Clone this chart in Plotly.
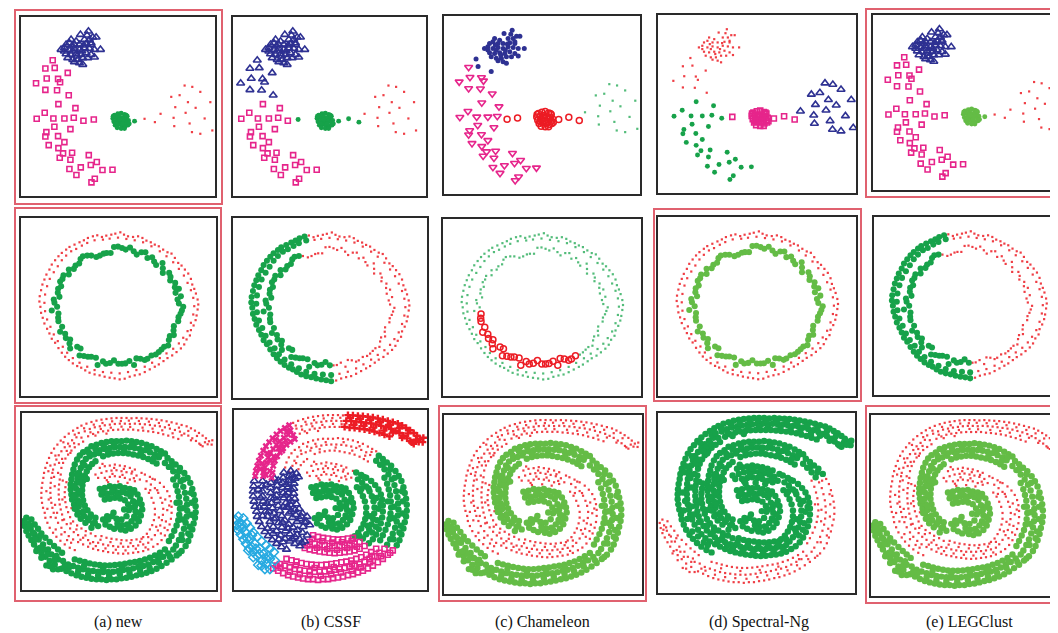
import plotly.graph_objects as go

W, H = 1058, 633
NAVY = "#2e3192"; PINK = "#e6258b"; DKG = "#17a24a"; LTG = "#64bc46"
RED = "#ec1c24"; CYAN = "#27aae1"; FRAME_RED = "#e0616f"; GTINY = "#35b063"

CAPTIONS = ["(a) new", "(b) CSSF", "(c) Chameleon", "(d) Spectral-Ng", "(e) LEGClust"]

# ---------------- Row 1: four groups (blob, arc, dense core, sparse cloud) ----------------
R1_A = [(242,70),(218,80),(255,88),(265,88),(190,95),(205,100),(230,95),(245,95),(175,110),(185,105),
        (200,110),(215,110),(235,108),(250,110),(160,125),(170,120),(185,125),(200,122),(215,125),(230,120),
        (245,122),(260,125),(278,125),(175,138),(190,140),(205,138),(220,140),(235,135),(250,140),(260,148),
        (180,150),(195,155),(210,155),(225,150),(240,150),(215,165),(225,170),(200,162),(170,130),(195,130),
        (222,130),(208,145),(238,82),(250,105),(192,115),(228,112)]
R1_B_UP3 = [(135,157),(141,180),(180,195)]
R1_B_UP = [(113,182),(117,212),(151,213),(157,223),(85,226),(113,246),(148,247),(183,262)]
R1_B_LOW = [(152,289),(203,301),(111,315),(87,333),(137,332),(170,332),(198,330),(140,357),(188,364),(116,373),
            (113,386),(151,385),(170,403),(123,412),(152,421),(193,435),(166,437),(243,442),(156,450),(188,456),
            (267,463),(249,472),(219,479),(185,484),(284,487),(314,486),(206,502),(261,513),(251,524)]
R1_B_R1 = [(227,339)]
R1_B_R2 = [(258,335)]
R1_C = [(320,322),(330,318),(340,316),(350,320),(358,325),(315,332),(325,330),(335,328),(345,330),(355,333),
        (362,338),(318,342),(328,340),(338,342),(348,340),(358,345),(322,352),(332,350),(342,352),(352,355),
        (360,352),(328,360),(340,362),(350,362),(335,335),(345,348),(325,347),(355,322),(316,325),(364,348)]
R1_BRIDGE = [(380,340)]
R1_D_LEFT = [(410,333),(441,343)]
R1_D = [(530,233),(553,237),(577,252),(490,267),(515,262),(607,283),(502,298),(540,283),(563,300),(458,318),
        (497,330),(533,315),(590,332),(545,347),(499,355),(552,373),(577,378),(613,368)]
ROW1 = {"A": R1_A, "BU3": R1_B_UP3, "BU": R1_B_UP, "BL": R1_B_LOW, "BR1": R1_B_R1, "BR2": R1_B_R2,
        "C": R1_C, "BRG": R1_BRIDGE, "DL": R1_D_LEFT, "D": R1_D}
ROW1_LABELS = [
    {"A":"tri","BU3":"sq","BU":"sq","BL":"sq","BR1":"sq","BR2":"sq","C":"dkg","BRG":"dkg","DL":"red","D":"red"},
    {"A":"tri","BU3":"tri","BU":"tri","BL":"sq","BR1":"sq","BR2":"dkg","C":"dkg","BRG":"dkg","DL":"dkg","D":"red"},
    {"A":"navy","BU3":"navy","BU":"dn","BL":"dn","BR1":"ro","BR2":"ro","C":"ro","BRG":"ro","DL":"ro","D":"gt"},
    {"A":"red","BU3":"red","BU":"red","BL":"dkg","BR1":"dkg","BR2":"sq","C":"sq","BRG":"sq","DL":"sq","D":"tri"},
    {"A":"tri","BU3":"sq","BU":"sq","BL":"sq","BR1":"sq","BR2":"sq","C":"ltg","BRG":"ltg","DL":"red","D":"red"},
]

# ---------------- Row 2: two wavy concentric rings ----------------
R2_I_TR = [(250,158),(265,162),(276,158),(287,152),(296,150),(308,150),(318,132),(330,131),(342,135),(353,140),
           (366,134),(377,145),(386,155),(400,148),(412,148),(418,165),(432,163),(438,176),(444,186),(463,180),
           (464,196),(464,210),(483,210),(487,222),(486,233),(501,240),(500,253),(512,258),(502,270),(518,280),
           (508,290),(512,302),(525,312),(521,323),(517,333),(511,343),(510,355),(497,370),(496,383),(497,397),
           (485,400),(482,412),(480,428),(468,432),(460,440),(452,448),(443,455)]
R2_I_BR = [(430,458),(418,468),(410,472),(397,468),(385,467),(378,487),(364,475),(352,482),(342,483)]
R2_I_BL = [(331,483),(318,473),(306,481),(294,483),(285,476),(269,487),(264,465),(250,462),(240,462),(228,460),
           (215,458),(218,437),(208,432),(187,437),(185,422),(187,410),(174,406),(172,393),(157,387),(163,372),
           (152,355),(151,345),(152,332)]
R2_I_LT = [(132,323),(148,312),(140,300),(138,290),(155,282),(150,270),(151,258),(160,250),(157,236),(164,228),
           (167,217),(183,215),(183,200),(198,198),(203,188),(214,182),(218,168),(225,160),(238,158)]
R2_O_LEFT = [(175,140),(185,132),(200,125),(215,118),(228,112),(240,105),(255,100),(335,530),(320,527),(305,525),
             (290,522),(275,518),(260,515),(245,510),(232,503),(220,495),(208,490),(195,482),(183,472),(172,462),
             (162,450),(152,436),(142,420),(132,408),(125,392),(118,378),(110,362),(105,345),(100,330),(98,312),
             (95,296),(96,280),(100,262),(104,245),(110,230),(116,215),(125,200),(132,185),(142,172),(152,160),
             (162,150),(190,145),(205,138),(222,128),(238,120),(260,112),(335,512),(310,510),(285,508),(260,502),
             (238,492),(215,480),(195,466),(178,450),(165,432),(150,415),(138,395),(128,372),(118,350),(112,325),
             (110,300),(112,275),(118,250),(126,228),(138,208),(150,190),(162,172),(175,158)]
R2_O_RIGHT = [(268,97),(282,102),(295,98),(310,95),(322,92),(337,88),(348,95),(360,100),(375,102),(390,100),
              (403,105),(415,113),(428,118),(440,125),(452,130),(465,140),(478,148),(490,152),(500,165),(510,180),
              (520,188),(530,200),(540,212),(548,228),(552,245),(558,258),(563,272),(568,290),(570,305),(568,320),
              (565,338),(562,352),(556,368),(548,382),(545,398),(535,410),(528,425),(518,437),(505,448),(492,458),
              (478,466),(466,475),(452,485),(440,492),(425,500),(410,508),(395,515),(380,518),(365,522),(350,528),
              (285,110),(305,107),(330,104),(355,108),(380,112),(405,118),(430,130),(455,145),(475,160),(495,178),
              (512,198),(527,218),(538,240),(548,262),(555,285),(558,310),(555,335),(548,360),(538,385),(525,405),
              (512,422),(495,438),(475,452),(455,466),(432,480),(410,492),(385,502),(360,508)]
ROW2 = {"ITR": R2_I_TR, "IBR": R2_I_BR, "IBL": R2_I_BL, "ILT": R2_I_LT, "OL": R2_O_LEFT, "OR": R2_O_RIGHT}
ROW2_LABELS = [
    {"ITR":"dkg","IBR":"dkg","IBL":"dkg","ILT":"dkg","OL":"red","OR":"red"},
    {"ITR":"red","IBR":"red","IBL":"dkg","ILT":"dkg","OL":"dkg","OR":"red"},
    {"ITR":"gt","IBR":"ro","IBL":"ro","ILT":"gt","OL":"gt","OR":"gt"},
    {"ITR":"ltg","IBR":"ltg","IBL":"ltg","ILT":"ltg","OL":"red","OR":"red"},
    {"ITR":"red","IBR":"red","IBL":"dkg","ILT":"dkg","OL":"dkg","OR":"red"},
]

# ---------------- Row 3: two interleaved spiral arms ----------------
R3_G1 = [(275,258),(290,255),(305,250),(320,252),(335,250),(350,255),(365,258),(378,262),(388,275),(395,290),
         (400,305),(402,320),(398,338),(392,355),(382,368),(368,378),(352,383),(338,380),(280,275),(295,272),
         (310,270),(325,268),(340,268),(355,272),(367,280),(375,295),(380,310),(382,325),(378,342),(370,355),
         (357,365),(342,367),(328,362),(290,290),(305,288),(320,285),(336,287),(350,292),(360,305),(362,322),
         (355,340),(340,350),(325,348),(312,340),(318,378),(305,372),(292,365),(300,350),(285,350),
         (283,265),(313,261),(345,261),(372,270),(390,300),(391,330),(386,348),(362,372),(332,372),(298,281),
         (330,278),(367,315),(348,320),(316,330),(297,340)]
R3_G2 = [(270,370),(255,362),(240,352),(228,340),(215,330),(205,318),(198,305),(192,290),(190,275),(188,260),
         (188,245),(190,230),(192,215),(262,345),(248,335),(238,322),(230,308),(225,292),(222,277),(222,262),
         (223,247),(226,232),(230,218),(250,375),(232,360),(218,348),(208,335),(212,310),(208,292),(205,275),
         (205,258),(206,240),(208,225),(213,210),
         (197,282),(214,265),(214,300),(226,325),(198,250),(214,238),(200,318),(245,345),(260,360),(236,228),
         (218,222)]
R3_G2B = [(196,200),(200,185),(207,170),(215,158),(225,148),(238,140),(236,205),(243,193),(252,183),(262,175),
          (218,195),(224,180),(233,168),(245,160),(258,155),(272,150),(250,130),(265,125),(280,120),(295,117),
          (310,115),(325,115),(340,115),(355,113),(370,115),(385,117),(400,120),(415,125),(430,130),(445,138),
          (458,145),(470,152),(275,142),(290,138),(305,135),(320,133),(335,132),(350,132),(365,133),(380,135),
          (395,138),(410,142),(425,148),(440,155),(452,163),(285,160),(300,155),(315,152),(330,150),(345,150),
          (360,152),(375,155),(390,158),(405,162),(420,168),(433,175),(445,182),
          (262,138),(318,125),(372,125),(420,137),(456,154),(300,146),(348,141),(398,150),(437,165),(229,187),
          (208,212),(243,150),(287,130)]
R3_G3A = [(478,165),(490,175),(502,185),(515,195),(528,210),(470,180),(482,192),(495,205),(507,220),
          (490,190),(512,205)]
R3_G3B = [(538,225),(546,240),(552,258),(556,275),(560,292),(562,310),(562,328),(560,345),(556,362),(552,380),
          (546,398),(540,415),(532,430),(517,235),(525,252),(530,270),(534,288),(536,306),(537,324),(535,342),
          (532,360),(527,378),(520,396),(512,412),(503,428),(495,230),(503,248),(508,265),(512,282),(514,300),
          (515,318),(513,336),(510,352),(505,368),(498,384),(490,400),(482,415),
          (548,270),(550,300),(524,316),(549,336),(523,350),(544,372),(522,412),(540,392),(505,300),(526,230)]
R3_G4 = [(520,445),(505,458),(490,470),(475,480),(460,490),(445,498),(430,505),(415,510),(400,515),(385,518),
         (370,522),(355,525),(340,527),(325,530),(310,530),(295,532),(280,530),(265,530),(250,528),(235,525),
         (220,522),(205,518),(190,512),(175,505),(160,498),(495,440),(480,452),(465,462),(450,470),(435,478),
         (420,485),(405,490),(390,493),(375,497),(360,500),(345,502),(330,505),(315,507),(300,508),(285,508),
         (270,507),(255,505),(240,503),(225,500),(210,495),(195,490),(180,485),(470,440),(455,450),(440,458),
         (425,465),(410,470),(395,475),(380,478),(365,480),(350,483),(335,485),(320,487),(305,488),(290,488),
         (275,487),(260,485),(245,482),(230,478),(215,474),(200,470),
         (512,452),(485,462),(452,480),(424,495),(396,505),(364,510),(335,515),(303,520),(270,518),(240,515),
         (210,508),(182,496),(458,462),(397,484),(342,494),(285,497),(228,489),(170,490)]
R3_G5 = [(165,475),(150,470),(140,485),(125,475),(112,462),(100,450),(88,438),(78,425),(70,412),(62,398),
         (55,385),(50,370),(47,355),(55,345),(70,350),(80,365),(90,378),(100,392),(112,405),(125,418),
         (138,430),(150,440),(162,450),(120,440),(105,425),(92,410),(80,395),(68,378),(60,362),(85,445),
         (100,465),(115,488),(135,500),(150,500),(130,455),
         (58,375),(75,390),(96,400),(82,410),(108,440),(118,455),(140,470),(97,435),(66,368),(125,490),(145,460)]
R3_R1 = [(275,195),(290,190),(305,188),(320,185),(335,188),(350,190),(365,195),(380,200),(280,210),(295,205),
         (310,203),(325,202),(340,205),(355,208),(370,212),(385,218),(290,225),(305,222),(320,220),(335,222),
         (350,225),(365,230),(380,235),(270,225),(300,238),(330,236),(395,230),(400,210),
         (283,183),(318,195),(347,198),(372,206),(262,215),(313,213),(343,216),(377,226),(296,232),(358,240)]
R3_R2 = [(410,215),(425,222),(440,230),(455,240),(467,252),(477,265),(484,280),(488,295),(490,312),(490,330),
         (488,348),(484,365),(478,382),(470,398),(460,412),(448,424),(415,235),(428,245),(440,256),(450,270),
         (457,285),(462,300),(465,318),(464,336),(461,352),(456,368),(449,383),(440,397),(430,410),(412,258),
         (422,270),(430,285),(436,300),(440,318),(440,335),(437,352),(432,367),(425,380),(416,393),(405,403),
         (433,228),(447,262),(471,290),(477,322),(452,344),(473,356),(444,372),(420,403),(458,392),(426,262),
         (483,308),(469,375)]
R3_R3 = [(435,432),(420,440),(405,445),(390,448),(375,450),(360,452),(345,453),(330,452),(315,450),(300,448),
         (285,445),(270,442),(255,438),(420,420),(405,425),(390,428),(375,430),(360,432),(345,432),(330,432),
         (315,430),(300,428),(285,425),(270,420),(400,408),(385,410),(370,412),(355,413),(340,412),(325,410),
         (310,408),(295,405),(280,400),
         (412,434),(383,438),(352,443),(323,441),(292,437),(263,430),(367,421),(338,422),(307,418),(396,417),
         (277,411)]
R3_R4 = [(240,432),(225,425),(210,418),(195,410),(182,400),(170,388),(160,375),(150,360),(143,345),(137,330),
         (133,315),(130,300),(128,285),(127,270),(127,255),(128,240),(255,418),(240,412),(225,405),(210,397),
         (197,388),(186,377),(176,364),(168,350),(162,335),(158,320),(155,305),(153,290),(152,275),(152,260),
         (153,245),(262,400),(248,392),(233,385),(220,377),(207,368),(195,356),(186,343),(180,328),(175,313),
         (172,298),(170,283),(170,268),(172,253),(175,238),(110,330),(105,315),(102,300),(100,285),(100,270),
         (101,255),(103,240),(112,345),(118,360),(125,375),(135,390),(145,402),(157,414),(170,425),(185,435),
         (200,442),
         (246,422),(217,411),(189,420),(177,412),(160,395),(143,380),(163,352),(147,330),(118,318),(141,306),
         (122,290),(163,290),(115,265),(140,250),(164,233),(188,362),(205,380),(232,398),(128,343),(190,316)]
R3_R5 = [(130,225),(133,210),(106,225),(155,230),(158,215),(108,210),(112,195),(117,180),(123,165),(130,150),
         (138,137),(148,125),(158,113),(170,102),(182,92),(195,83),(208,75),(135,200),(140,185),(145,170),
         (152,157),(160,145),(170,133),(180,122),(192,112),(205,103),(160,195),(165,180),(172,167),(180,155),
         (190,143),(200,133),(212,124),(225,116),(150,210),(185,130),(200,95),
         (121,205),(127,188),(153,180),(162,168),(142,158),(187,150),(166,118),(176,144),(198,121),(220,104),
         (212,90),(138,222)]
R3_R6 = [(220,68),(235,62),(250,57),(265,53),(280,50),(295,48),(310,46),(325,45),(340,45),(355,45),
         (370,46),(230,85),(245,78),(260,73),(275,70),(290,67),(305,65),(320,63),(335,62),(350,62),
         (365,63),(240,100),(255,93),(270,88),(285,85),(300,83),(315,81),(330,80),(345,80),(360,80),
         (228,76),(257,65),(283,60),(312,55),(338,54),(362,53),(247,88),(278,78),(308,74),(340,71),
         (366,72),(262,98),(295,92)]
R3_R7 = [(385,45),(400,46),(415,47),(430,48),(445,50),(460,52),(475,55),(490,58),(505,62),(520,66),
         (535,70),(548,76),(560,83),(572,90),(583,98),(593,106),(602,115),(610,125),(380,62),(395,63),
         (410,64),(425,66),(440,68),(455,70),(470,73),(485,77),(500,81),(515,86),(528,92),(540,98),
         (552,106),(563,114),(573,122),(583,130),(375,80),(390,82),(405,83),(420,85),(435,87),(450,90),
         (465,94),(480,98),(495,103),(510,108),
         (392,54),(422,56),(452,60),(482,66),(512,74),(540,84),(566,99),(590,118),(403,74),(433,77),
         (462,82),(493,91),(520,97),(548,112),(577,126),(598,124),(612,112)]
ROW3 = {"G1": R3_G1, "G2": R3_G2, "G2B": R3_G2B, "G3A": R3_G3A, "G3B": R3_G3B, "G4": R3_G4, "G5": R3_G5,
        "R1": R3_R1, "R2": R3_R2, "R3": R3_R3, "R4": R3_R4, "R5": R3_R5, "R6": R3_R6, "R7": R3_R7}
_G = ["G1","G2","G2B","G3A","G3B","G4","G5"]
_R = ["R1","R2","R3","R4","R5","R6","R7"]
ROW3_LABELS = [
    {**{k:"dkg" for k in _G}, **{k:"red" for k in _R}},
    {"G1":"dkg","R2":"dkg","G3A":"dkg","G3B":"dkg","G2":"tri","R4":"tri","G2B":"red","R1":"red","R6":"red",
     "R3":"sq","G4":"sq","G5":"cy","R5":"px","R7":"rx"},
    {**{k:"ltg" for k in _G}, **{k:"red" for k in _R}},
    {**{k:"dkg" for k in ["G1","G2","G2B","G3A"] + _R}, **{k:"red" for k in ["G3B","G4","G5"]}},
    {**{k:"ltg" for k in _G}, **{k:"red" for k in _R}},
]

# marker styles: symbol, size, color, line width
STYLES = {
    "tri":  ("triangle-up-open", 7, NAVY, 1.6),
    "navy": ("circle", 5, NAVY, 0),
    "sq":   ("square-open", 5, PINK, 1.6),
    "dn":   ("triangle-down-open", 7, PINK, 1.6),
    "px":   ("x", 6, PINK, 0),
    "dkg":  ("circle", 5.5, DKG, 0),
    "ltg":  ("circle", 5.5, LTG, 0),
    "red":  ("square", 2.2, RED, 0),
    "ro":   ("circle-open", 6, RED, 1.5),
    "gt":   ("square", 2.2, GTINY, 0),
    "cy":   ("diamond-open", 7, CYAN, 1.5),
    "rx":   ("cross", 6, RED, 0),
}
ROW_SIZE_BOOST = {0: {"dkg": 0.9, "ltg": 0.9}, 1: {"dkg": 1.1, "ltg": 1.1}, 2: {"dkg": 1.17, "ltg": 1.17}}
ORDER = ["red", "gt", "dkg", "ltg", "sq", "dn", "tri", "navy", "ro", "cy", "px", "rx"]

ROWS = [ROW1, ROW2, ROW3]
LABELS = [ROW1_LABELS, ROW2_LABELS, ROW3_LABELS]
XRANGES = [[(40,621),(62,643),(40,621),(40,621),(40,621)],
           [(40,623)]*5,
           [(42,623)]*5]
YRANGES = [(565,27), (580,45), (562,30)]

# panel boxes in pixels: (left, right, top, bottom)
BOXES = [[(13,207,9,188),(225,418,9,188),(436,632,8,186),(650,848,7,185),(865,1056,7,182)],
         [(13,208,210,388),(225,419,210,390),(435,633,211,388),(650,848,209,388),(866,1056,209,387)],
         [(14,208,405,582),(226,419,402,582),(436,634,407,586),(650,847,405,585),(863,1055,407,588)]]
HIGHLIGHT = [(7,214,2,196),(858,1057,1,189),(7,213,200,395),(646,853,201,393),
             (7,213,398,593),(431,638,398,593),(858,1057,398,595)]
CAPTION_X = [110, 323, 534, 751, 961]
CAPTION_Y = 614

fig = go.Figure()
layout = {}
k = 0
for r in range(3):
    for c in range(5):
        k += 1
        xs = "" if k == 1 else str(k)
        l, rt, t, b = BOXES[r][c]
        layout["xaxis" + xs] = dict(domain=[l / W, rt / W], range=list(XRANGES[r][c]), anchor="y" + xs,
                                    showline=True, mirror=True, linecolor="#2a2a2a", linewidth=2,
                                    showgrid=False, zeroline=False, showticklabels=False, ticks="")
        layout["yaxis" + xs] = dict(domain=[1 - b / H, 1 - t / H], range=list(YRANGES[r]), anchor="x" + xs,
                                    showline=True, mirror=True, linecolor="#2a2a2a", linewidth=2,
                                    showgrid=False, zeroline=False, showticklabels=False, ticks="")
        groups = {}
        for seg, sty in LABELS[r][c].items():
            groups.setdefault(sty, []).extend(ROWS[r][seg])
        for sty in ORDER:
            if sty not in groups:
                continue
            pts = groups[sty]
            sym, size, col, lw = STYLES[sty]
            size = size * ROW_SIZE_BOOST[r].get(sty, 1.0)
            fig.add_trace(go.Scatter(
                x=[p[0] for p in pts], y=[p[1] for p in pts], mode="markers",
                xaxis="x" + xs, yaxis="y" + xs, hoverinfo="skip", showlegend=False,
                marker=dict(symbol=sym, size=size, color=col, opacity=0.85 if sty in ("red", "gt") else 1,
                            line=dict(width=lw, color=col))))

shapes = []
for (l, rt, t, b) in HIGHLIGHT:
    shapes.append(dict(type="rect", xref="paper", yref="paper", x0=l / W, x1=rt / W,
                       y0=1 - b / H, y1=1 - t / H, line=dict(color=FRAME_RED, width=2)))
annotations = [dict(text=txt, x=cx / W, y=1 - CAPTION_Y / H, xref="paper", yref="paper",
                    showarrow=False, xanchor="center", yanchor="middle",
                    font=dict(family="Liberation Serif, DejaVu Serif, serif", size=16, color="#111"))
               for txt, cx in zip(CAPTIONS, CAPTION_X)]

fig.update_layout(width=W, height=H, margin=dict(l=0, r=0, t=0, b=0), paper_bgcolor="white",
                  plot_bgcolor="white", shapes=shapes, annotations=annotations, **layout)
fig.write_html("out.html")
